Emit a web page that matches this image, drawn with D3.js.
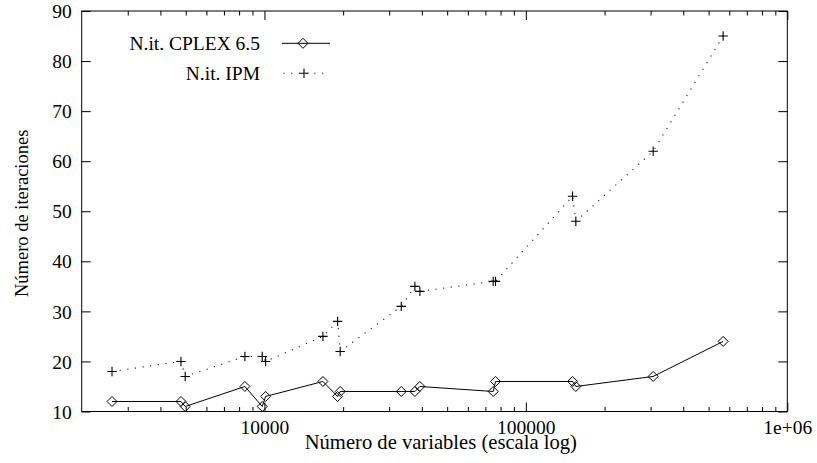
<!DOCTYPE html>
<html>
<head>
<meta charset="utf-8">
<script src="https://cdn.jsdelivr.net/npm/d3@7/dist/d3.min.js"></script>
<style>
  html, body { margin: 0; padding: 0; background: #fff; }
  svg { display: block; }
</style>
</head>
<body>
<svg id="chart" width="817" height="463"></svg>
<script>
// ---- data ----
const nVars   = [2612, 4795, 4977, 8420, 9808, 10106, 16740, 19050, 19490, 33370, 37630, 39320, 75000, 76540, 150900, 155300, 306800, 568200];
const cplexIt = [12, 12, 11, 15, 11, 13, 16, 13, 14, 14, 14, 15, 14, 16, 16, 15, 17, 24];
const ipmIt   = [18, 20, 17, 21, 21, 20, 25, 28, 22, 31, 35, 34, 36, 36, 53, 48, 62, 85];
const xMajorTicks  = [10000, 100000, 1000000];
const xMajorLabels = ["10000", "100000", "1e+06"];
const xMinorTicks  = [3000, 4000, 5000, 6000, 7000, 8000, 9000,
                      20000, 30000, 40000, 50000, 60000, 70000, 80000, 90000,
                      200000, 300000, 400000, 500000, 600000, 700000, 800000, 900000];
const yTicks = [10, 20, 30, 40, 50, 60, 70, 80, 90];
const seriesNames = ["N.it. CPLEX 6.5", "N.it. IPM"];
const xTitle = "Número de variables (escala log)";
const yTitle = "Número de iteraciones";

// ---- layout ----
const FONT = "'Liberation Serif', 'Times New Roman', Times, serif";
const svg = d3.select("#chart").attr("font-family", FONT);
const L = 81.7, R = 787.3, T = 11, B = 411.5;
const FS_TICK = 19.5, FS_LEG = 19.5, FS_XT = 20.6, FS_YT = 18.5;

const x = d3.scaleLog().domain([2000, 1000000]).range([L, R]);
const y = d3.scaleLinear().domain([10, 90]).range([B, T]);

function styleAxis(g) {
  g.attr("font-family", FONT).attr("font-size", FS_TICK);
  g.select(".domain").remove();
  g.selectAll("line").attr("stroke", "#000").attr("stroke-width", 1);
  g.selectAll("text").attr("fill", "#000");
}

// bottom major ticks with labels
svg.append("g").attr("transform", `translate(0,${B})`)
  .call(d3.axisBottom(x).tickValues(xMajorTicks)
        .tickFormat((d, i) => xMajorLabels[i]).tickSizeInner(-9).tickSizeOuter(0).tickPadding(12))
  .call(styleAxis)
  .call(g => g.selectAll("text").attr("dy", null).attr("y", 22));
// bottom minor ticks
svg.append("g").attr("transform", `translate(0,${B})`)
  .call(d3.axisBottom(x).tickValues(xMinorTicks).tickFormat("").tickSizeInner(-4.5).tickSizeOuter(0))
  .call(styleAxis);
// top mirror ticks
svg.append("g").attr("transform", `translate(0,${T})`)
  .call(d3.axisTop(x).tickValues(xMajorTicks).tickFormat("").tickSizeInner(-9).tickSizeOuter(0))
  .call(styleAxis);
svg.append("g").attr("transform", `translate(0,${T})`)
  .call(d3.axisTop(x).tickValues(xMinorTicks).tickFormat("").tickSizeInner(-4.5).tickSizeOuter(0))
  .call(styleAxis);
// left y ticks with labels
svg.append("g").attr("transform", `translate(${L},0)`)
  .call(d3.axisLeft(y).tickValues(yTicks).tickFormat(d3.format("d"))
        .tickSizeInner(-9).tickSizeOuter(0).tickPadding(10))
  .call(styleAxis)
  .call(g => g.selectAll("text").attr("x", -10).attr("dy", "0.34em"));
// right mirror ticks
svg.append("g").attr("transform", `translate(${R},0)`)
  .call(d3.axisRight(y).tickValues(yTicks).tickFormat("").tickSizeInner(-9).tickSizeOuter(0))
  .call(styleAxis);

// border
svg.append("rect").attr("x", L).attr("y", T).attr("width", R - L).attr("height", B - T)
  .attr("fill", "none").attr("stroke", "#000").attr("stroke-width", 1);

// titles
svg.append("text").attr("x", 440.8).attr("y", 449).attr("text-anchor", "middle")
  .attr("font-size", FS_XT).attr("fill", "#000").text(xTitle);
svg.append("text").attr("transform", "translate(28,213.3) rotate(-90)").attr("text-anchor", "middle")
  .attr("font-size", FS_YT).attr("fill", "#000").text(yTitle);

// series
const cData = nVars.map((v, i) => [v, cplexIt[i]]);
const iData = nVars.map((v, i) => [v, ipmIt[i]]);
const line = d3.line().x(d => x(d[0])).y(d => y(d[1]));

svg.append("path").datum(iData).attr("d", line).attr("fill", "none")
  .attr("stroke", "#222").attr("stroke-width", 1.1).attr("stroke-dasharray", "1.2,6.5");
svg.append("path").datum(cData).attr("d", line).attr("fill", "none")
  .attr("stroke", "#000").attr("stroke-width", 1);

const dSize = 5, pSize = 4.7;
function diamond(g, cx, cy) {
  g.append("path").attr("d", `M${cx},${cy - dSize}L${cx + dSize},${cy}L${cx},${cy + dSize}L${cx - dSize},${cy}Z`)
    .attr("fill", "none").attr("stroke", "#000").attr("stroke-width", 1);
}
function plus(g, cx, cy) {
  g.append("path").attr("d", `M${cx - pSize},${cy}H${cx + pSize}M${cx},${cy - pSize}V${cy + pSize}`)
    .attr("fill", "none").attr("stroke", "#000").attr("stroke-width", 1.1);
}
const mk = svg.append("g");
cData.forEach(d => diamond(mk, x(d[0]), y(d[1])));
iData.forEach(d => plus(mk, x(d[0]), y(d[1])));

// legend
const lg = svg.append("g");
lg.append("text").attr("x", 260).attr("y", 49.8).attr("text-anchor", "end")
  .attr("font-size", FS_LEG).attr("fill", "#000").text(seriesNames[0]);
lg.append("line").attr("x1", 282).attr("x2", 330).attr("y1", 43.3).attr("y2", 43.3)
  .attr("stroke", "#000").attr("stroke-width", 1);
diamond(lg, 303, 43.3);
lg.append("text").attr("x", 260).attr("y", 79.8).attr("text-anchor", "end")
  .attr("font-size", FS_LEG).attr("fill", "#000").text(seriesNames[1]);
lg.append("line").attr("x1", 283.5).attr("x2", 328).attr("y1", 73.3).attr("y2", 73.3)
  .attr("stroke", "#222").attr("stroke-width", 1.1).attr("stroke-dasharray", "1.2,6.5");
plus(lg, 304, 73.3);
</script>
</body>
</html>
